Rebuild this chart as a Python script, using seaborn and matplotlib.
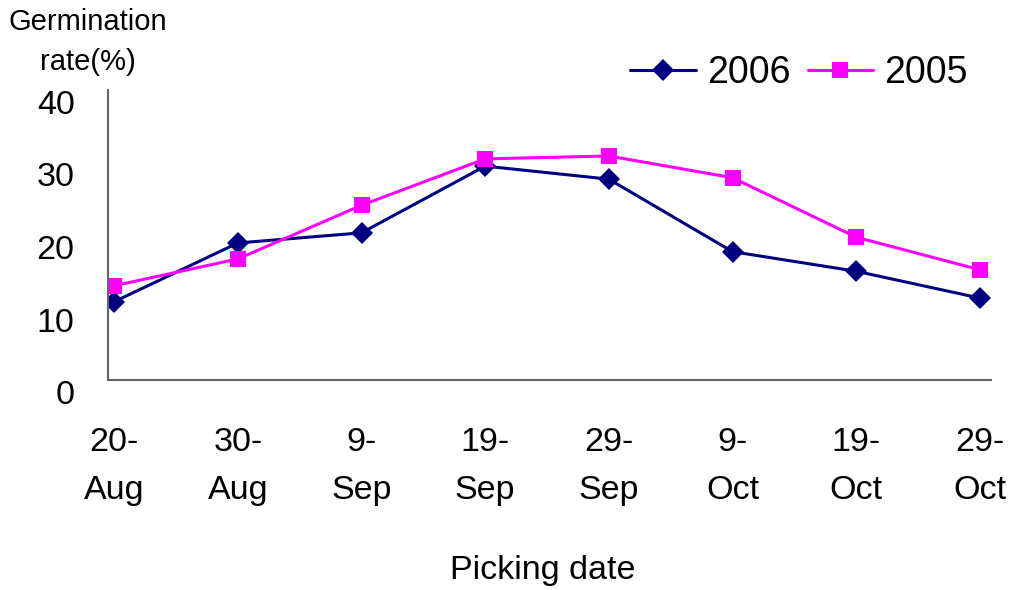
import matplotlib
matplotlib.use("Agg")
import matplotlib.pyplot as plt
import matplotlib.transforms as mtransforms
import numpy as np
import pandas as pd
import seaborn as sns

# Picking dates and germination rates (%) for two seasons
dates = ["20-\nAug", "30-\nAug", "9-\nSep", "19-\nSep", "29-\nSep", "9-\nOct", "19-\nOct", "29-\nOct"]
rate_2006 = [10.8, 18.9, 20.3, 29.5, 27.7, 17.7, 15.0, 11.3]
rate_2005 = [13.0, 16.7, 24.1, 30.5, 30.9, 27.9, 19.7, 15.2]
years = ["2006", "2005"]
y_ticks = [0, 10, 20, 30, 40]

sns.set_theme(style="white")
plt.rcParams["font.family"] = ["Liberation Sans", "DejaVu Sans"]
plt.rcParams["text.color"] = "black"
plt.rcParams["axes.labelcolor"] = "black"

pos = np.arange(len(dates))
df = pd.DataFrame({
    "pos": np.concatenate([pos, pos]),
    "rate": rate_2006 + rate_2005,
    "year": [years[0]] * len(dates) + [years[1]] * len(dates),
})

fig = plt.figure(figsize=(10.1, 5.9), dpi=100)
ax = fig.add_axes([108 / 1010, 1 - 380 / 590, (991 - 108) / 1010, (380 - 90) / 590])

palette = {"2006": "#000080", "2005": "#FF00FF"}
markers = {"2006": "D", "2005": "s"}
marker_sizes = {"2006": 11, "2005": 12}
sns.lineplot(data=df, x="pos", y="rate", hue="year", style="year",
             hue_order=years, style_order=years,
             palette=palette, markers=markers, dashes=False,
             linewidth=2.2, markersize=11, markeredgewidth=0, ax=ax)

ax.set_xlim(-0.05, 7.09)
ax.set_ylim(0, 40)
ax.set_xticks(pos)
ax.set_xticklabels(dates, linespacing=1.7)
ax.set_yticks(y_ticks)
ax.set_xlabel("")
ax.set_ylabel("")

for side in ["top", "right"]:
    ax.spines[side].set_visible(False)
for side in ["left", "bottom"]:
    ax.spines[side].set_color("#666666")
    ax.spines[side].set_linewidth(1.5)

ax.tick_params(axis="both", direction="in", length=7, width=1.2, color="#444444",
               labelsize=24.5, labelcolor="black")
ax.tick_params(axis="x", pad=34)
ax.tick_params(axis="y", pad=24)

# nudge y tick labels slightly downward
offset = mtransforms.ScaledTranslation(0, -0.12, fig.dpi_scale_trans)
for lbl in ax.get_yticklabels():
    lbl.set_transform(lbl.get_transform() + offset)

handles, labels = ax.get_legend_handles_labels()
for h, lab in zip(handles, labels):
    h.set_markersize(marker_sizes[lab])
for line, yr in zip(ax.lines, years):
    line.set_markersize(marker_sizes[yr])
ax.legend_.remove()
leg = fig.legend(handles, labels, loc="center right", bbox_to_anchor=(968 / 1010, 1 - 73 / 590),
                 ncol=2, frameon=False, fontsize=27, handlelength=1.75, handletextpad=0.3,
                 columnspacing=0.45, borderpad=0, borderaxespad=0)
for t in leg.get_texts():
    t.set_color("black")

fig.text(543 / 1010, 1 - 570 / 590, "Picking date", ha="center", va="center",
         fontsize=24.5, color="black")
fig.text(88 / 1010, 1 - 42 / 590, "Germination\nrate(%)", ha="center", va="center",
         fontsize=21, linespacing=1.55, color="black")

fig.savefig("out.png", dpi=100)
